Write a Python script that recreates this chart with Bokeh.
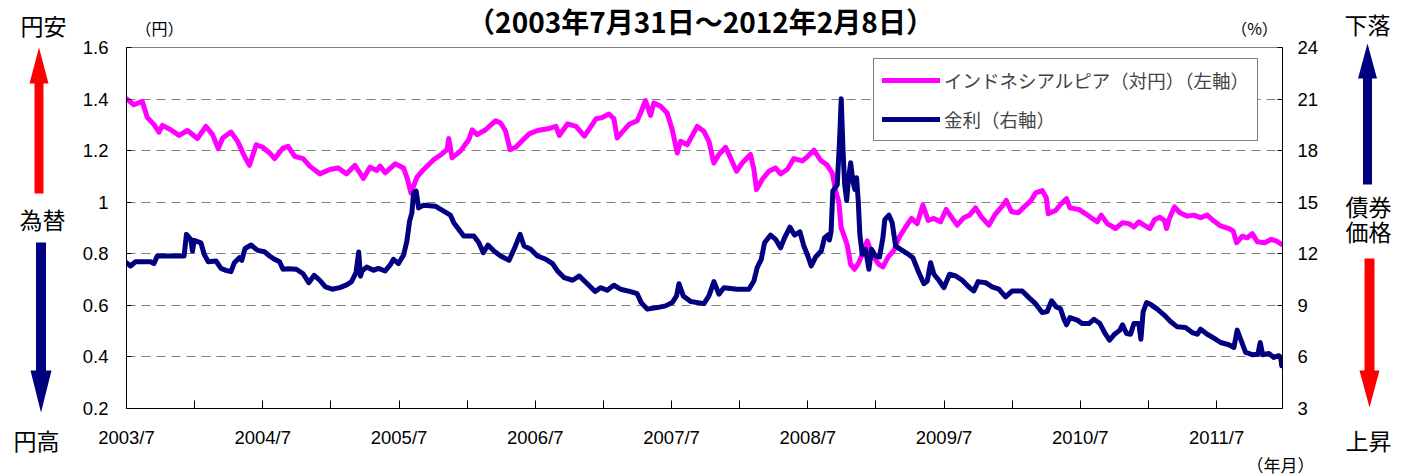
from bokeh.plotting import figure
from bokeh.layouts import column, row
from bokeh.models import (Range1d, LinearAxis, FixedTicker, CustomJSTickFormatter,
                          Label, Legend, LegendItem)
from bokeh.embed import file_html
from bokeh.resources import INLINE

# ---------------- data (x = months elapsed since 2003/7/31) ----------------
rp_month = [0, 0.65, 1.39, 1.83, 2.42, 2.86, 3.16, 3.89, 4.63, 5.37, 6.25, 6.99, 7.58, 8.08, 8.47,
            9.2, 9.79, 10.38, 10.83, 11.42, 12.0, 12.6, 13.04, 13.78, 14.22, 14.81, 15.55, 16.14,
            17.02, 17.91, 18.64, 19.38, 20.12, 20.86, 21.45, 22.04, 22.33, 22.78, 23.66, 24.4,
            24.75, 25.05, 25.58, 26.17, 27.05, 27.79, 28.23, 28.38, 28.67, 29.41, 30.15, 30.44,
            30.88, 31.62, 32.51, 32.95, 33.39, 33.78, 34.28, 34.86, 35.46, 36.19, 37.23, 37.82,
            38.11, 38.85, 39.59, 40.32, 40.91, 41.36, 41.8, 42.48, 42.92, 43.21, 43.65, 44.24,
            44.97, 45.27, 45.7, 46.15, 46.44, 47.03, 47.61, 48.06, 48.5, 48.79, 49.38, 50.26,
            50.85, 51.29, 51.72, 52.17, 52.76, 53.19, 53.72, 54.22, 54.95, 55.25, 55.48, 55.98,
            56.57, 57.15, 57.6, 58.18, 58.77, 59.51, 59.95, 60.53, 61.12, 61.7, 62.15, 62.44,
            62.73, 62.94, 63.17, 63.47, 63.76, 64.11, 64.49, 64.79, 65.23, 65.52, 65.73, 66.25,
            66.61, 67.08, 67.58, 68.02, 68.6, 69.13, 69.63, 70.13, 70.6, 71.1, 71.69, 72.18,
            72.65, 73.15, 73.74, 74.24, 74.77, 75.3, 75.94, 76.53, 77.12, 77.47, 77.94, 78.53,
            79.03, 79.61, 80.06, 80.64, 81.0, 81.17, 81.82, 82.25, 82.78, 83.08, 83.87, 84.46,
            85.05, 85.48, 85.84, 86.37, 87.1, 87.69, 88.28, 88.71, 89.15, 89.6, 90.12, 90.54,
            91.0, 91.41, 91.59, 91.88, 92.29, 92.76, 93.41, 94.0, 94.58, 95.17, 95.76, 96.35,
            97.08, 97.46, 97.76, 98.26, 98.7, 99.14, 99.58, 100.23, 100.81, 101.29, 101.7]
rp_value = [1.401, 1.378, 1.391, 1.329, 1.301, 1.272, 1.298, 1.281, 1.259, 1.278, 1.247, 1.294,
            1.262, 1.208, 1.249, 1.272, 1.236, 1.178, 1.143, 1.223, 1.213, 1.191, 1.169, 1.210,
            1.217, 1.178, 1.169, 1.140, 1.110, 1.127, 1.133, 1.110, 1.143, 1.092, 1.136, 1.123,
            1.140, 1.114, 1.149, 1.133, 1.088, 1.036, 1.097, 1.127, 1.165, 1.187, 1.204, 1.247,
            1.172, 1.198, 1.243, 1.281, 1.262, 1.281, 1.316, 1.307, 1.275, 1.204, 1.213, 1.239,
            1.265, 1.278, 1.286, 1.294, 1.259, 1.304, 1.294, 1.256, 1.294, 1.324, 1.327, 1.342,
            1.324, 1.249, 1.272, 1.301, 1.316, 1.346, 1.394, 1.337, 1.385, 1.372, 1.346, 1.281,
            1.191, 1.236, 1.223, 1.294, 1.275, 1.236, 1.152, 1.185, 1.213, 1.172, 1.120, 1.152,
            1.185, 1.127, 1.049, 1.088, 1.120, 1.133, 1.110, 1.127, 1.169, 1.160, 1.176, 1.202,
            1.163, 1.144, 1.113, 1.047, 1.000, 0.900, 0.873, 0.834, 0.760, 0.740, 0.766, 0.798,
            0.850, 0.815, 0.791, 0.759, 0.749, 0.788, 0.813, 0.862, 0.903, 0.937, 0.917, 0.989,
            0.929, 0.937, 0.924, 0.972, 0.942, 0.911, 0.940, 0.950, 0.978, 0.942, 0.911, 0.955,
            0.985, 1.007, 0.963, 0.959, 0.981, 1.004, 1.036, 1.045, 1.017, 0.955, 0.968, 0.991,
            1.014, 0.978, 0.972, 0.955, 0.937, 0.924, 0.950, 0.917, 0.898, 0.920, 0.917, 0.904,
            0.924, 0.911, 0.898, 0.933, 0.942, 0.929, 0.898, 0.942, 0.982, 0.959, 0.946, 0.950,
            0.940, 0.950, 0.927, 0.908, 0.898, 0.888, 0.843, 0.868, 0.862, 0.878, 0.847, 0.843,
            0.856, 0.849, 0.837]

yld_month = [0, 0.35, 0.8, 2.12, 2.42, 2.71, 5.07, 5.28, 5.66, 5.81, 5.96, 6.55, 6.84, 7.2, 7.88,
             8.32, 8.76, 9.2, 9.5, 9.94, 10.15, 10.44, 10.97, 11.56, 12.15, 12.6, 13.04, 13.48,
             13.78, 14.22, 14.96, 15.55, 16.05, 16.53, 17.02, 17.52, 18.11, 18.79, 19.38, 19.82,
             20.21, 20.45, 20.6, 20.75, 21.15, 21.74, 22.18, 22.78, 23.22, 23.51, 23.95, 24.4,
             24.69, 24.93, 25.13, 25.28, 25.51, 25.72, 26.17, 27.2, 27.93, 28.52, 28.82, 29.26,
             29.7, 30.59, 31.03, 31.42, 31.83, 32.36, 32.95, 33.69, 34.13, 34.66, 35.01, 35.6,
             36.19, 36.93, 37.52, 37.96, 38.55, 39.29, 39.88, 40.62, 41.27, 41.74, 42.33, 42.92,
             43.5, 44.39, 44.97, 45.33, 45.86, 46.73, 47.47, 48.06, 48.44, 48.65, 49.03, 49.68,
             50.85, 51.29, 51.73, 52.17, 52.61, 53.79, 54.81, 55.25, 55.54, 55.9, 56.19, 56.72,
             57.16, 57.6, 57.95, 58.42, 58.83, 59.3, 59.65, 60.0, 60.3, 60.68, 61.18, 61.47,
             61.77, 61.9, 62.05, 62.2, 62.59, 62.79, 62.94, 63.09, 63.24, 63.42, 63.56, 63.77,
             63.97, 64.14, 64.29, 64.44, 64.58, 64.79, 65.08, 65.38, 65.61, 65.96, 66.31, 66.61,
             66.78, 67.14, 67.43, 67.73, 68.17, 68.76, 69.25, 69.78, 70.22, 70.52, 70.81, 71.1,
             71.54, 71.98, 72.48, 73.01, 73.6, 74.18, 74.62, 75.0, 75.65, 76.23, 76.82, 77.41,
             78.0, 78.88, 79.47, 80.05, 80.64, 81.08, 81.46, 81.87, 82.25, 82.55, 82.78, 83.08,
             83.73, 84.17, 84.75, 85.19, 85.72, 86.13, 86.57, 87.01, 87.48, 87.71, 88.07, 88.42,
             88.71, 89.15, 89.33, 89.53, 89.83, 90.24, 90.77, 91.36, 91.94, 92.53, 93.26, 93.85,
             94.29, 94.59, 95.17, 95.76, 96.35, 97.08, 97.52, 97.81, 98.11, 98.55, 99.14, 99.63,
             99.84, 100.05, 100.6, 101.04, 101.49, 101.64, 101.73]
yld_value = [11.48, 11.29, 11.54, 11.54, 11.43, 11.87, 11.87, 13.13, 12.84, 12.16, 12.78, 12.64,
             11.97, 11.54, 11.58, 11.15, 11.04, 10.96, 11.48, 11.77, 11.62, 12.31, 12.51, 12.20,
             12.12, 11.87, 11.68, 11.54, 11.10, 11.13, 11.10, 10.84, 10.32, 10.75, 10.46, 10.07,
             9.94, 10.03, 10.19, 10.38, 10.90, 12.10, 10.70, 11.00, 11.23, 11.04, 11.15, 11.00,
             11.35, 11.68, 11.43, 11.93, 12.74, 13.90, 14.38, 15.55, 15.64, 14.67, 14.83, 14.77,
             14.48, 14.25, 13.80, 13.42, 13.03, 13.03, 12.64, 12.06, 12.51, 12.16, 11.87, 11.62,
             12.26, 13.13, 12.45, 12.26, 11.87, 11.68, 11.43, 11.00, 10.61, 10.46, 10.71, 10.23,
             9.80, 10.03, 9.88, 10.17, 9.94, 9.80, 9.68, 9.16, 8.78, 8.87, 8.97, 9.16, 9.55,
             10.26, 9.55, 9.22, 9.10, 9.55, 10.38, 9.65, 10.03, 9.94, 9.94, 10.42, 11.19, 11.68,
             12.64, 13.09, 12.84, 12.35, 12.93, 13.55, 13.09, 13.28, 12.45, 11.87, 11.29, 11.81,
             12.16, 12.93, 13.10, 12.80, 13.30, 15.64, 16.03, 18.54, 21.02, 18.16, 16.03, 15.10,
             16.22, 17.29, 16.22, 15.74, 16.42, 15.06, 13.13, 11.97, 12.26, 11.10, 12.26, 11.87,
             11.81, 12.93, 13.99, 14.25, 13.80, 12.45, 12.26, 12.01, 11.77, 10.90, 10.26, 10.42,
             11.48, 10.81, 10.46, 10.03, 10.81, 10.71, 10.46, 10.07, 9.84, 10.38, 10.32, 10.07,
             9.94, 9.49, 9.84, 9.84, 9.45, 9.10, 8.58, 8.64, 9.26, 8.91, 8.80, 8.20, 7.87, 8.29,
             8.14, 7.94, 7.94, 8.19, 7.94, 7.42, 6.98, 7.32, 7.56, 7.87, 7.36, 7.32, 7.94, 7.94,
             7.03, 8.64, 9.16, 9.03, 8.78, 8.45, 8.06, 7.75, 7.71, 7.42, 7.32, 7.61, 7.32, 7.09,
             6.84, 6.71, 6.55, 7.56, 7.03, 6.26, 6.13, 6.16, 6.84, 6.13, 6.20, 5.97, 6.07, 5.97,
             5.49]

tick_months = [0, 6, 12, 18, 24, 30, 36, 42, 48, 54, 60, 66, 72, 78, 84, 90, 96]
tick_labels = ["2003/7", "", "2004/7", "", "2005/7", "", "2006/7", "", "2007/7", "",
               "2008/7", "", "2009/7", "", "2010/7", "", "2011/7"]
left_ticks = [0.2, 0.4, 0.6, 0.8, 1.0, 1.2, 1.4, 1.6]
right_ticks = [3, 6, 9, 12, 15, 18, 21, 24]

title_text = "（2003年7月31日～2012年2月8日）"
series_names = ["インドネシアルピア（対円）（左軸）", "金利（右軸）"]

# ---------------- styling ----------------
JP = "Noto Sans CJK JP"
NUM = "Liberation Sans"
MAGENTA = "#FF00FF"
NAVY = "#000080"
RED = "#FF0000"

W, H = 1401, 476
LX, RX = 75, 1330             # page x of the central column
P_TOP, P_BOT = 36, 450        # page y span of the main chart canvas
TOP_H = 47                    # height of the strip above (overlapped by 11px)

# ---------------- main chart ----------------
p = figure(width=RX - LX, height=P_BOT - P_TOP, output_backend="svg", toolbar_location=None,
           x_range=Range1d(0, 101.8), y_range=Range1d(0.2, 1.6), frame_align=False,
           min_border_left=126 - LX, min_border_right=RX - 1282,
           min_border_top=47 - P_TOP, min_border_bottom=P_BOT - 409,
           margin=(P_TOP - TOP_H, 0, 0, 0))
p.extra_y_ranges = {"rate": Range1d(3, 24)}
p.outline_line_color = "#808080"
p.background_fill_color = "white"
p.border_fill_color = "white"
p.xgrid.visible = False
p.ygrid.ticker = FixedTicker(ticks=left_ticks[1:-1])
p.ygrid.grid_line_color = "#808080"
p.ygrid.grid_line_dash = "9 6"
p.ygrid.grid_line_width = 1

xa = p.xaxis[0]
xa.ticker = FixedTicker(ticks=tick_months)
xa.major_label_overrides = {m: lab for m, lab in zip(tick_months, tick_labels)}
xa.major_tick_in = 8
xa.major_tick_out = 0
xa.minor_tick_line_color = None
xa.major_label_standoff = 18
xa.major_label_text_font = NUM
xa.major_label_text_font_size = "18.5px"
xa.major_label_text_color = "black"
xa.axis_line_color = "black"
xa.major_tick_line_color = "black"

ya = p.yaxis[0]
ya.ticker = FixedTicker(ticks=left_ticks)
ya.formatter = CustomJSTickFormatter(code="return tick.toFixed(1).replace(/\\.0$/, '');")
ya.major_tick_in = 5
ya.major_tick_out = 0
ya.minor_tick_line_color = None
ya.major_label_standoff = 18
ya.major_label_text_font = NUM
ya.major_label_text_font_size = "18.5px"
ya.major_label_text_color = "black"
ya.axis_line_color = "black"

ra = LinearAxis(y_range_name="rate", ticker=FixedTicker(ticks=right_ticks))
ra.major_tick_in = 5
ra.major_tick_out = 0
ra.minor_tick_line_color = None
ra.major_label_standoff = 15
ra.major_label_text_font = NUM
ra.major_label_text_font_size = "18.5px"
ra.major_label_text_color = "black"
ra.axis_line_color = "black"
p.add_layout(ra, "right")

r1 = p.line(rp_month, rp_value, line_color=MAGENTA, line_width=5,
            line_join="round", line_cap="round")
r2 = p.line(yld_month, yld_value, y_range_name="rate", line_color=NAVY, line_width=5,
            line_join="round", line_cap="round")

legend = Legend(items=[LegendItem(label=series_names[0], renderers=[r1]),
                       LegendItem(label=series_names[1], renderers=[r2])],
                location=(747, 267), margin=0, padding=8, spacing=13,
                glyph_width=58, glyph_height=20, label_height=20, label_standoff=4,
                label_text_font=JP, label_text_font_size="18.5px",
                border_line_color="black", border_line_width=1,
                background_fill_color="white", background_fill_alpha=1)
p.add_layout(legend)


# ---------------- decoration panels (page-pixel coordinates) ----------------
def deco(x0, x1, y0, y1):
    f = figure(width=x1 - x0, height=y1 - y0, x_range=Range1d(x0, x1), y_range=Range1d(y1, y0),
               x_axis_type=None, y_axis_type=None, toolbar_location=None, output_backend="svg",
               min_border=0, outline_line_color=None, frame_align=False)
    f.background_fill_color = "white"
    f.border_fill_color = "white"
    f.grid.visible = False
    return f


top = deco(LX, RX, 0, TOP_H)
bottom = deco(LX, RX, P_BOT, H)
left = deco(0, LX, 0, H)
right = deco(RX, W, 0, H)


def txt(f, text, px, py, size, bold=False):
    f.add_layout(Label(x=px, y=py, text=text, text_font=JP, text_font_size=size,
                       text_align="center", text_baseline="middle", text_color="black",
                       text_font_style="bold" if bold else "normal"))


def arrow(f, cx, y_tail, y_tip, shaft_hw, head_hw, head_len, color):
    d = 1 if y_tip > y_tail else -1
    yb = y_tip - d * head_len
    xs = [cx - shaft_hw, cx + shaft_hw, cx + shaft_hw, cx + head_hw, cx, cx - head_hw, cx - shaft_hw]
    ys = [y_tail, y_tail, yb, yb, y_tip, yb, yb]
    f.patch(xs, ys, fill_color=color, line_color=None)


txt(top, title_text, 700, 20.5, "28px", bold=True)
txt(top, "（円）", 159, 27, "16px")
txt(top, "（%）", 1254, 27, "16px")
txt(bottom, "（年月）", 1280, 463.5, "17px")

txt(left, "円安", 43, 24, "23px")
txt(left, "為替", 42, 218, "23px")
txt(left, "円高", 36, 439, "23px")
txt(right, "下落", 1367, 23, "23px")
txt(right, "債券", 1368, 205, "23px")
txt(right, "価格", 1368, 230, "23px")
txt(right, "上昇", 1368, 439, "23px")

arrow(left, 38.5, 193, 47, 4.5, 9.5, 36, RED)
arrow(left, 40.5, 242, 412, 5, 10.5, 42, NAVY)
arrow(right, 1367, 184, 43, 4.5, 9.5, 35, NAVY)
arrow(right, 1369, 258, 407, 5, 10, 37, RED)

layout = row(left, column(top, p, bottom), right)
open("out.html", "w").write(file_html(layout, INLINE))
